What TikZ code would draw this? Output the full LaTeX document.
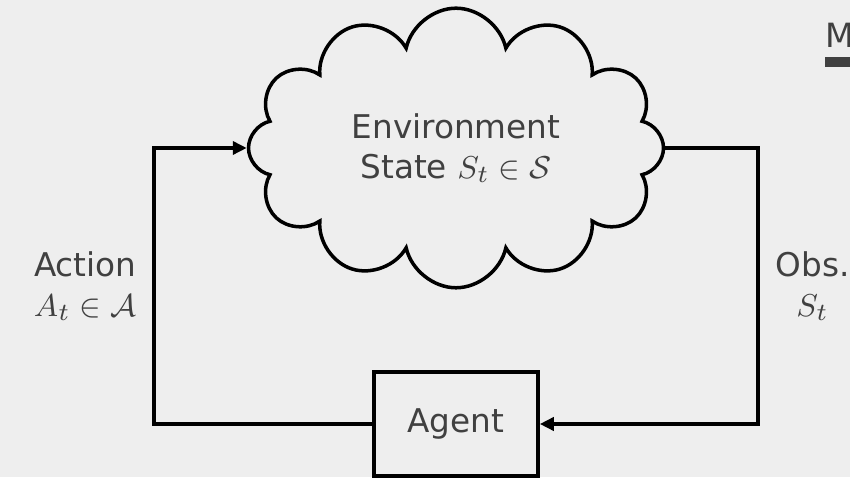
\documentclass[tikz,border=0pt]{standalone}
\usepackage{fontspec}
\setmainfont{DejaVu Sans}
\usepackage{xcolor}
\usetikzlibrary{shapes.symbols,arrows.meta,positioning,calc}
\definecolor{bggray}{HTML}{EEEEEE}
\definecolor{txtgray}{HTML}{404040}
\tikzset{
    envcloud/.style={cloud, cloud puffs=12, cloud puff arc=155, aspect=1.5, draw, line width=1pt, minimum width=4.15cm, minimum height=1cm, align=center, font=\fontsize{9.3}{11.5}\selectfont, text=txtgray},
    agentbox/.style={rectangle, draw, line width=1pt, minimum width=1.64cm, minimum height=1.04cm, font=\fontsize{9.3}{11.5}\selectfont, text=txtgray},
    flow/.style={-{Triangle[length=1.4mm, width=1.3mm]}, line width=1pt},
    sidelabel/.style={font=\fontsize{9.3}{11.5}\selectfont, align=center, text=txtgray, inner sep=4.5pt},
}

\begin{document}
\begin{tikzpicture}
    \fill[bggray] (0,0) rectangle (8.5,4.77);
    \useasboundingbox (0,0) rectangle (8.5,4.77);

    \node[envcloud] (env) at (4.56,3.29) {Environment\\State $S_t \in \mathcal{S}$};
    \node[agentbox] (agent) at (4.56,0.53) {Agent};

    \coordinate (actlow) at (1.54,0.53);
    \coordinate (acthigh) at (1.54,3.29);
    \coordinate (obshigh) at (7.58,3.29);
    \coordinate (obslow) at (7.58,0.53);

    \draw[flow] (agent.west) -- (actlow) -- node[sidelabel, left] {Action\\$A_t \in \mathcal{A}$} (acthigh) -- (env.west);
    \draw[flow] (env.east) -- (obshigh) -- node[sidelabel, right] {Obs.\\$S_t$} (obslow) -- (agent.east);

    % cut-off header at the top right
    \node[anchor=north west, inner sep=0pt, font=\fontsize{9.5}{11}\selectfont, text=txtgray] (hdr) at (8.25,4.55) {M};
    \fill[txtgray] (8.25,4.20) rectangle (8.6,4.10);
\end{tikzpicture}
\end{document}
